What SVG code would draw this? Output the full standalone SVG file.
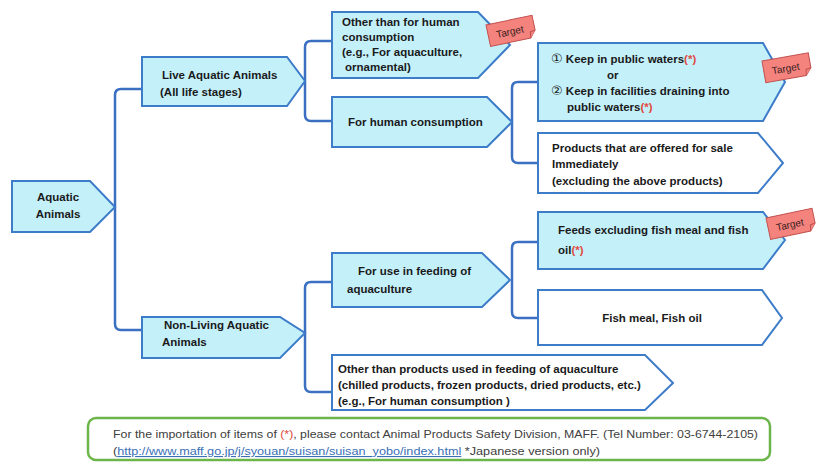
<svg xmlns="http://www.w3.org/2000/svg" width="816" height="463" viewBox="0 0 816 463">
<style>
.b{fill:#c4f0fa;stroke:#3d7cc9;stroke-width:2}
.w{fill:#ffffff;stroke:#3d7cc9;stroke-width:2}
.t{font-family:"Liberation Sans","DejaVu Sans",sans-serif;font-weight:bold;font-size:11.5px;fill:#1a1a1a}
.n{font-family:"DejaVu Sans",sans-serif;font-weight:normal;font-size:13px}
.r{fill:#e04a3f}
.c{fill:none;stroke:#3a6fc2;stroke-width:2.5}
.tag{fill:#f4837e;stroke:#c0504d;stroke-width:1}
.tt{font-family:"Liberation Sans",sans-serif;font-size:10px;fill:#3a2020}
.f{font-family:"Liberation Sans",sans-serif;font-size:11px;fill:#404040}
</style>
<defs>
<g id="tagshape">
<path class="tag" d="M0,0 H47 V15 L41,22 H0 Z"/>
<path class="tag" d="M47,15 L42,16 L41,22"/>
<text class="tt" x="22" y="15" text-anchor="middle">Target</text>
</g>
</defs>
<rect width="816" height="463" fill="#ffffff"/>
<g id="connectors">
<path class="c" d="M142,89 H121 Q115,89 115,95 V324 Q115,330 121,330 H142"/>
<path class="c" d="M332,41 H311 Q305,41 305,47 V115 Q305,121 311,121 H332"/>
<path class="c" d="M538,82 H518 Q512,82 512,88 V157 Q512,163 518,163 H538"/>
<path class="c" d="M332,282 H311 Q305,282 305,288 V386 Q305,392 311,392 H332"/>
<path class="c" d="M538,242 H518 Q512,242 512,248 V312 Q512,318 518,318 H538"/>
</g>
<g id="aquatic">
<path class="b" d="M12,181 H90 L115,207 L90,232 H12 Z"/>
<text class="t" x="58" y="201" text-anchor="middle">Aquatic</text>
<text class="t" x="58" y="218" text-anchor="middle">Animals</text>
</g>
<g id="live">
<path class="b" d="M142,57 H287 L305,81 L287,106 H142 Z"/>
<text class="t" x="162" y="79">Live Aquatic Animals</text>
<text class="t" x="160" y="96">(All life stages)</text>
</g>
<g id="other-human">
<path class="b" d="M332,12 H478 L510,45 L478,78 H332 Z"/>
<text class="t" x="342" y="26">Other than for human</text>
<text class="t" x="342" y="41">consumption</text>
<text class="t" x="342" y="56">(e.g., For aquaculture,</text>
<text class="t" x="345" y="71">ornamental)</text>
</g>
<g id="for-human">
<path class="b" d="M332,97 H487 L512,122 L487,147 H332 Z"/>
<text class="t" x="348" y="126">For human consumption</text>
</g>
<g id="keep">
<path class="b" d="M538,43 H763 L785,82 L763,121 H538 Z"/>
<text class="t" x="551" y="63"><tspan class="n">①</tspan> Keep in public waters<tspan class="r">(*)</tspan></text>
<text class="t" x="607" y="79">or</text>
<text class="t" x="551" y="95"><tspan class="n">②</tspan> Keep in facilities draining into</text>
<text class="t" x="567" y="111">public waters<tspan class="r">(*)</tspan></text>
</g>
<g id="sale">
<path class="w" d="M538,133 H758 L783,163 L758,193 H538 Z"/>
<text class="t" x="552" y="152">Products that are offered for sale</text>
<text class="t" x="552" y="168">Immediately</text>
<text class="t" x="552" y="185">(excluding the above products)</text>
</g>
<g id="non-living">
<path class="b" d="M142,317 H280 L305,333 L280,358 H142 Z"/>
<text class="t" x="164" y="329">Non-Living Aquatic</text>
<text class="t" x="162" y="346">Animals</text>
</g>
<g id="feeding">
<path class="b" d="M332,253 H482 L510,280 L482,307 H332 Z"/>
<text class="t" x="358" y="275">For use in feeding of</text>
<text class="t" x="347" y="293">aquaculture</text>
</g>
<g id="feeds">
<path class="b" d="M538,212 H763 L785,240 L763,269 H538 Z"/>
<text class="t" x="558" y="234">Feeds excluding fish meal and fish</text>
<text class="t" x="558" y="254">oil<tspan class="r">(*)</tspan></text>
</g>
<g id="fishmeal">
<path class="w" d="M538,290 H762 L782,318 L762,345 H538 Z"/>
<text class="t" x="652" y="322" text-anchor="middle">Fish meal, Fish oil</text>
</g>
<g id="other-products">
<path class="w" d="M332,355 H645 L673,383 L645,410 H332 Z"/>
<text class="t" x="338" y="373">Other than products used in feeding of aquaculture</text>
<text class="t" x="338" y="389">(chilled products, frozen products, dried products, etc.)</text>
<text class="t" x="338" y="405">(e.g., For human consumption )</text>
</g>
<g id="tags">
<use href="#tagshape" transform="translate(486,25) rotate(-12)"/>
<use href="#tagshape" transform="translate(762,61) rotate(-10)"/>
<use href="#tagshape" transform="translate(766,218) rotate(-12)"/>
</g>
<g id="note">
<rect x="88" y="418" width="682" height="42" rx="8" fill="#ffffff" stroke="#6cb54a" stroke-width="2.5"/>
<text class="f" x="113" y="438" textLength="645" lengthAdjust="spacingAndGlyphs">For the importation of items of <tspan class="r">(*)</tspan>, please contact Animal Products Safety Division, MAFF. (Tel Number: 03-6744-2105)</text>
<text class="f" x="113" y="455" textLength="487" lengthAdjust="spacingAndGlyphs">(<tspan fill="#3b6fb6" text-decoration="underline">http://www.maff.go.jp/j/syouan/suisan/suisan_yobo/index.html</tspan>  *Japanese version only)</text>
</g>
</svg>
